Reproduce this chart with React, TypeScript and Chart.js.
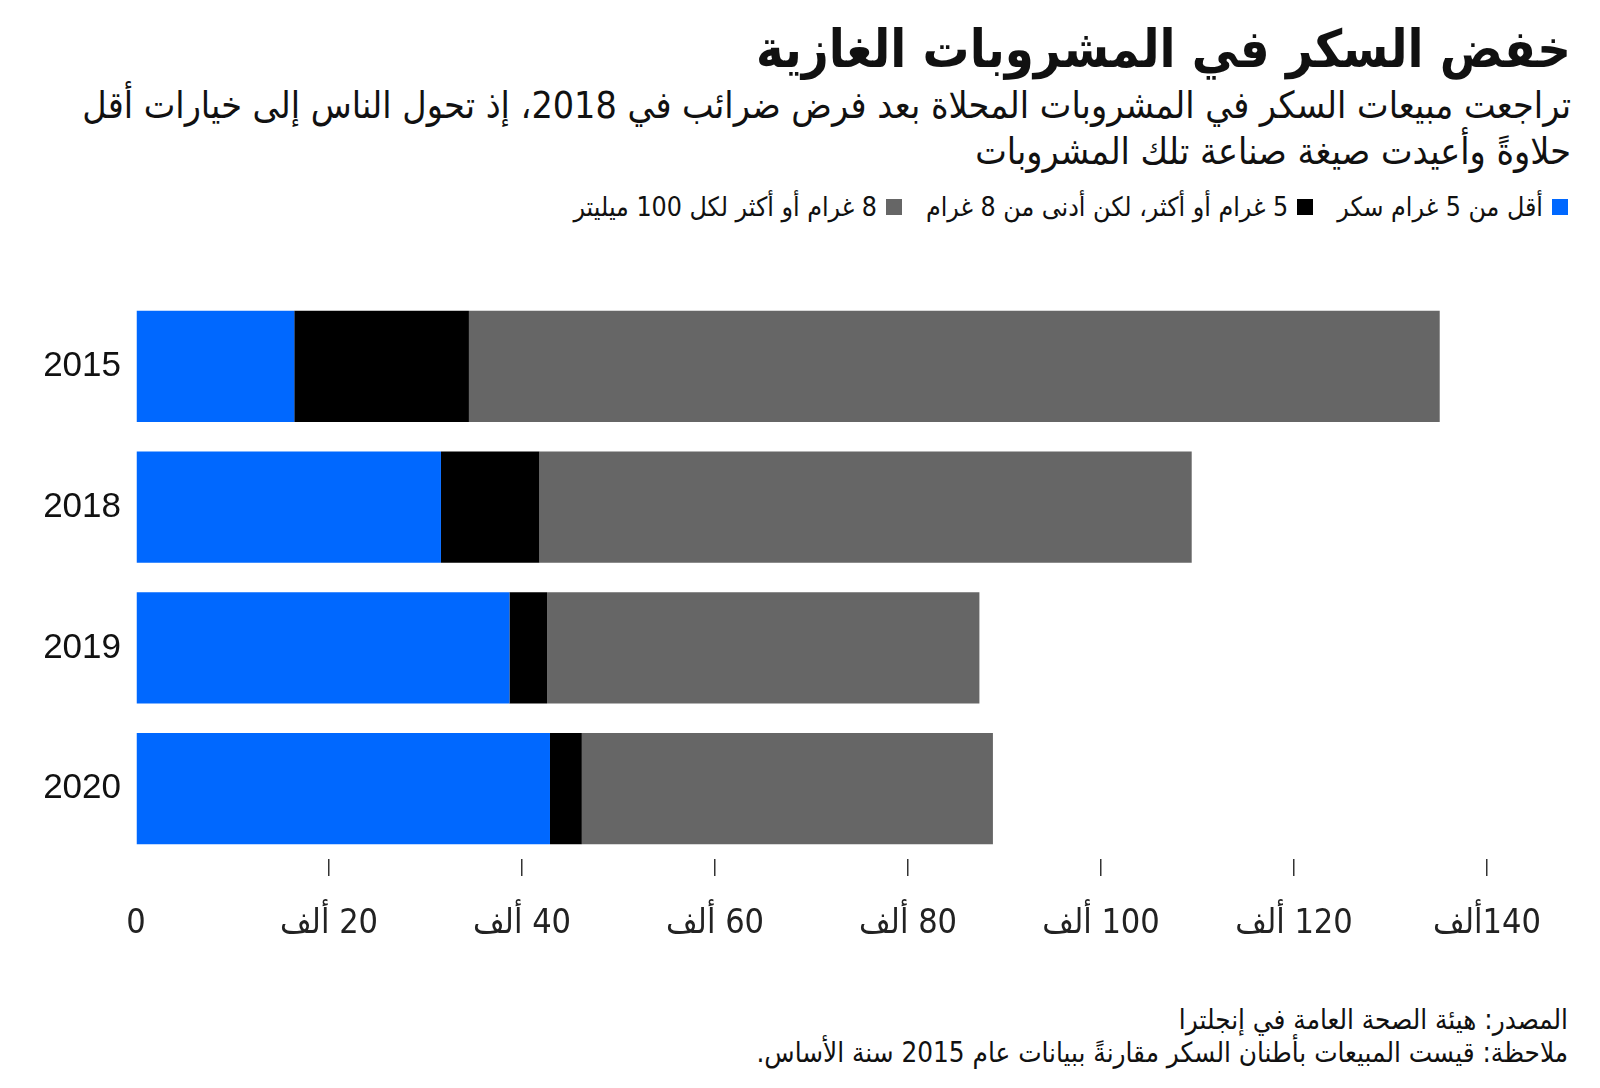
import React, { useEffect, useRef } from "react";
import { Chart, registerables } from "chart.js";

Chart.register(...registerables);

const categories = ["2015", "2018", "2019", "2020"];
const seriesNames = [
  "أقل من 5 غرام سكر",
  "5 غرام أو أكثر، لكن أدنى من 8 غرام",
  "8 غرام أو أكثر لكل 100 ميليتر",
];
const seriesColors = ["#0068FF", "#000000", "#666666"];
const lowSugar = [16400, 31600, 38700, 42900];
const midSugar = [18100, 10200, 3900, 3300];
const highSugar = [100600, 67600, 44800, 42600];
const xTickLabels = ["0", "20 ألف", "40 ألف", "60 ألف", "80 ألف", "100 ألف", "120 ألف", "140ألف"];

const titleText = "خفض السكر في المشروبات الغازية";
const subtitleLine1 = "تراجعت مبيعات السكر في المشروبات المحلاة بعد فرض ضرائب في 2018، إذ تحول الناس إلى خيارات أقل";
const subtitleLine2 = "حلاوةً وأعيدت صيغة صناعة تلك المشروبات";
const sourceText = "المصدر: هيئة الصحة العامة في إنجلترا";
const noteText = "ملاحظة: قيست المبيعات بأطنان السكر مقارنةً ببيانات عام 2015 سنة الأساس.";

const arabicFont = "'DejaVu Sans Condensed', 'DejaVu Sans', sans-serif";

export default function App() {
  const canvasRef = useRef<HTMLCanvasElement | null>(null);

  useEffect(() => {
    if (!canvasRef.current) return;
    const chart = new Chart(canvasRef.current, {
      type: "bar",
      data: {
        labels: categories,
        datasets: [lowSugar, midSugar, highSugar].map((d, i) => ({
          label: seriesNames[i],
          data: d,
          backgroundColor: seriesColors[i],
          borderWidth: 0,
          barPercentage: 0.79,
          categoryPercentage: 1,
        })),
      },
      options: {
        indexAxis: "y",
        animation: false,
        responsive: true,
        maintainAspectRatio: false,
        layout: { padding: { top: 19, right: 113, left: 0, bottom: 0 } },
        plugins: { legend: { display: false }, tooltip: { enabled: false } },
        scales: {
          x: {
            stacked: true,
            min: 0,
            max: 140000,
            afterFit: (s: any) => {
              s.height = 101;
            },
            ticks: {
              stepSize: 20000,
              padding: 28,
              maxRotation: 0,
              autoSkip: false,
              color: "#222",
              font: { family: arabicFont, size: 34 },
              callback: (_v: any, idx: number) => "\u200F" + xTickLabels[idx],
            },
            grid: {
              display: true,
              drawOnChartArea: false,
              drawTicks: true,
              tickLength: 17,
              lineWidth: 1.5,
              color: (ctx: any) => (ctx.tick && ctx.tick.value === 0 ? "rgba(0,0,0,0)" : "#333"),
            },
            border: { display: false },
          },
          y: {
            stacked: true,
            afterFit: (s: any) => {
              s.width = 136;
              s.paddingTop = 0;
              s.paddingBottom = 0;
            },
            ticks: {
              padding: 15,
              color: "#111",
              font: { family: "'Liberation Sans', Arial, sans-serif", size: 35 },
            },
            grid: { display: false, drawTicks: false },
            border: { display: false },
          },
        },
      },
    });
    return () => chart.destroy();
  }, []);

  const sq = (c: string) => (
    <span style={{ display: "inline-block", width: 16, height: 16, background: c, marginLeft: 9, flex: "0 0 auto" }} />
  );

  return (
    <div style={{ position: "absolute", left: 0, top: 0, width: 1600, height: 1088, overflow: "hidden", background: "#fff", fontFamily: arabicFont, color: "#111" }}>
      <div dir="rtl" style={{ position: "absolute", right: 29, top: 12, fontSize: 52, fontWeight: "bold", lineHeight: "74px", whiteSpace: "nowrap" }}>
        {titleText}
      </div>
      <div dir="rtl" style={{ position: "absolute", right: 29, top: 82, fontSize: 37.3, lineHeight: "46px", whiteSpace: "nowrap", textAlign: "right" }}>
        {subtitleLine1}
        <br />
        {subtitleLine2}
      </div>
      <div dir="rtl" style={{ position: "absolute", right: 32, top: 190, fontSize: 26.5, lineHeight: "34px", display: "flex", alignItems: "center", whiteSpace: "nowrap" }}>
        {seriesNames.map((n, i) => (
          <span key={i} style={{ display: "flex", alignItems: "center", marginLeft: i < 2 ? 24 : 0 }}>
            {sq(seriesColors[i])}
            <span>{n}</span>
          </span>
        ))}
      </div>
      <div style={{ position: "absolute", left: 0, top: 277, width: 1600, height: 683 }}>
        <canvas ref={canvasRef} />
      </div>
      <div dir="rtl" style={{ position: "absolute", right: 32, top: 1003, fontSize: 27.6, lineHeight: "33px", whiteSpace: "nowrap", textAlign: "right" }}>
        {sourceText}
        <br />
        {noteText}
      </div>
    </div>
  );
}
